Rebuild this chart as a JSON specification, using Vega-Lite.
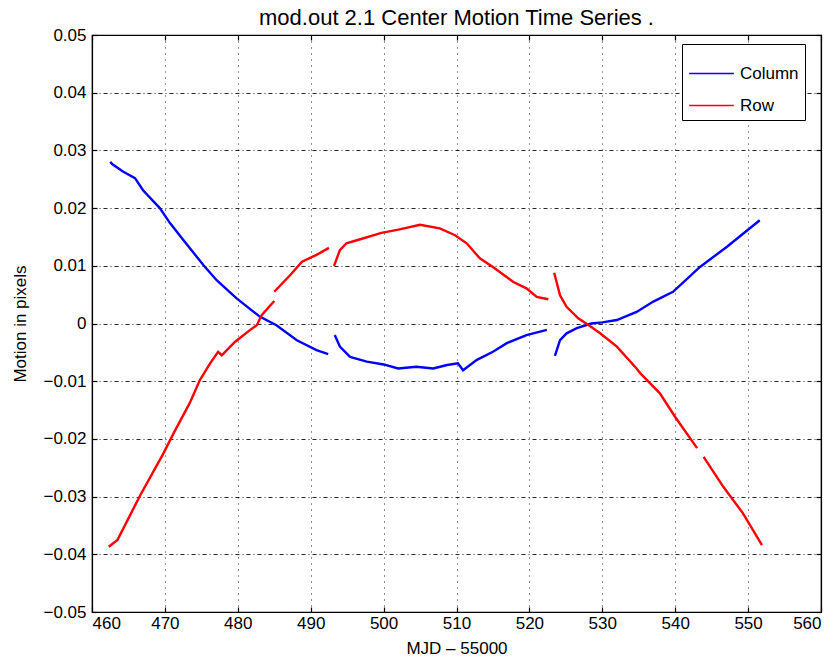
{
  "$schema": "https://vega.github.io/schema/vega-lite/v6.json",
  "autosize": {"type": "none"},
  "width": 729,
  "height": 577,
  "padding": {"left": 92, "top": 35, "right": 14, "bottom": 49},
  "background": "white",
  "title": {"text": "mod.out 2.1 Center Motion Time Series .", "font": "Liberation Sans", "fontSize": 22, "fontWeight": "normal", "color": "black", "offset": -4, "anchor": "middle"},
  "data": {"values": [
    {"s": "Column", "g": "c1", "x": 462.5, "y": 0.0280},
    {"s": "Column", "g": "c1", "x": 462.8, "y": 0.0276},
    {"s": "Column", "g": "c1", "x": 464.3, "y": 0.0263},
    {"s": "Column", "g": "c1", "x": 465.9, "y": 0.0252},
    {"s": "Column", "g": "c1", "x": 467.0, "y": 0.0231},
    {"s": "Column", "g": "c1", "x": 469.3, "y": 0.0200},
    {"s": "Column", "g": "c1", "x": 470.7, "y": 0.0174},
    {"s": "Column", "g": "c1", "x": 472.5, "y": 0.0145},
    {"s": "Column", "g": "c1", "x": 475.3, "y": 0.0101},
    {"s": "Column", "g": "c1", "x": 477.1, "y": 0.0075},
    {"s": "Column", "g": "c1", "x": 479.8, "y": 0.0044},
    {"s": "Column", "g": "c1", "x": 483.0, "y": 0.0012},
    {"s": "Column", "g": "c1", "x": 485.3, "y": -0.0003},
    {"s": "Column", "g": "c1", "x": 488.1, "y": -0.0029},
    {"s": "Column", "g": "c1", "x": 490.8, "y": -0.0046},
    {"s": "Column", "g": "c1", "x": 492.4, "y": -0.0053},
    {"s": "Column", "g": "c2", "x": 493.3, "y": -0.0020},
    {"s": "Column", "g": "c2", "x": 494.0, "y": -0.0040},
    {"s": "Column", "g": "c2", "x": 495.4, "y": -0.0058},
    {"s": "Column", "g": "c2", "x": 497.7, "y": -0.0066},
    {"s": "Column", "g": "c2", "x": 500.0, "y": -0.0071},
    {"s": "Column", "g": "c2", "x": 502.0, "y": -0.0078},
    {"s": "Column", "g": "c2", "x": 504.5, "y": -0.0075},
    {"s": "Column", "g": "c2", "x": 506.8, "y": -0.0078},
    {"s": "Column", "g": "c2", "x": 508.7, "y": -0.0072},
    {"s": "Column", "g": "c2", "x": 510.2, "y": -0.0069},
    {"s": "Column", "g": "c2", "x": 510.9, "y": -0.0081},
    {"s": "Column", "g": "c2", "x": 512.8, "y": -0.0063},
    {"s": "Column", "g": "c2", "x": 515.0, "y": -0.0049},
    {"s": "Column", "g": "c2", "x": 516.9, "y": -0.0034},
    {"s": "Column", "g": "c2", "x": 519.6, "y": -0.0020},
    {"s": "Column", "g": "c2", "x": 522.4, "y": -0.0011},
    {"s": "Column", "g": "c3", "x": 523.5, "y": -0.0056},
    {"s": "Column", "g": "c3", "x": 524.2, "y": -0.0029},
    {"s": "Column", "g": "c3", "x": 525.1, "y": -0.0017},
    {"s": "Column", "g": "c3", "x": 526.5, "y": -0.0008},
    {"s": "Column", "g": "c3", "x": 528.5, "y": 0.0000},
    {"s": "Column", "g": "c3", "x": 530.0, "y": 0.0002},
    {"s": "Column", "g": "c3", "x": 532.0, "y": 0.0006},
    {"s": "Column", "g": "c3", "x": 534.7, "y": 0.0020},
    {"s": "Column", "g": "c3", "x": 537.0, "y": 0.0038},
    {"s": "Column", "g": "c3", "x": 539.7, "y": 0.0055},
    {"s": "Column", "g": "c3", "x": 543.4, "y": 0.0098},
    {"s": "Column", "g": "c3", "x": 547.1, "y": 0.0133},
    {"s": "Column", "g": "c3", "x": 551.6, "y": 0.0179},
    {"s": "Row", "g": "r1", "x": 462.3, "y": -0.0387},
    {"s": "Row", "g": "r1", "x": 463.5, "y": -0.0375},
    {"s": "Row", "g": "r1", "x": 466.6, "y": -0.0298},
    {"s": "Row", "g": "r1", "x": 469.8, "y": -0.0225},
    {"s": "Row", "g": "r1", "x": 471.2, "y": -0.0190},
    {"s": "Row", "g": "r1", "x": 473.4, "y": -0.0138},
    {"s": "Row", "g": "r1", "x": 474.8, "y": -0.0098},
    {"s": "Row", "g": "r1", "x": 476.2, "y": -0.0069},
    {"s": "Row", "g": "r1", "x": 477.3, "y": -0.0049},
    {"s": "Row", "g": "r1", "x": 477.8, "y": -0.0055},
    {"s": "Row", "g": "r1", "x": 479.6, "y": -0.0032},
    {"s": "Row", "g": "r1", "x": 481.7, "y": -0.0011},
    {"s": "Row", "g": "r1", "x": 482.6, "y": -0.0003},
    {"s": "Row", "g": "r1", "x": 483.3, "y": 0.0015},
    {"s": "Row", "g": "r1", "x": 485.0, "y": 0.0039},
    {"s": "Row", "g": "r1b", "x": 485.0, "y": 0.0055},
    {"s": "Row", "g": "r1b", "x": 487.2, "y": 0.0084},
    {"s": "Row", "g": "r1b", "x": 488.8, "y": 0.0107},
    {"s": "Row", "g": "r1b", "x": 490.8, "y": 0.0119},
    {"s": "Row", "g": "r1b", "x": 492.5, "y": 0.0131},
    {"s": "Row", "g": "r2", "x": 493.2, "y": 0.0100},
    {"s": "Row", "g": "r2", "x": 494.0, "y": 0.0127},
    {"s": "Row", "g": "r2", "x": 494.9, "y": 0.0139},
    {"s": "Row", "g": "r2", "x": 496.8, "y": 0.0146},
    {"s": "Row", "g": "r2", "x": 499.7, "y": 0.0157},
    {"s": "Row", "g": "r2", "x": 502.2, "y": 0.0163},
    {"s": "Row", "g": "r2", "x": 505.0, "y": 0.0171},
    {"s": "Row", "g": "r2", "x": 507.7, "y": 0.0165},
    {"s": "Row", "g": "r2", "x": 509.8, "y": 0.0153},
    {"s": "Row", "g": "r2", "x": 511.4, "y": 0.0139},
    {"s": "Row", "g": "r2", "x": 513.2, "y": 0.0113},
    {"s": "Row", "g": "r2", "x": 515.0, "y": 0.0098},
    {"s": "Row", "g": "r2", "x": 517.8, "y": 0.0072},
    {"s": "Row", "g": "r2", "x": 519.6, "y": 0.0061},
    {"s": "Row", "g": "r2", "x": 521.0, "y": 0.0046},
    {"s": "Row", "g": "r2", "x": 522.6, "y": 0.0042},
    {"s": "Row", "g": "r3", "x": 523.4, "y": 0.0088},
    {"s": "Row", "g": "r3", "x": 524.2, "y": 0.0049},
    {"s": "Row", "g": "r3", "x": 525.1, "y": 0.0029},
    {"s": "Row", "g": "r3", "x": 526.7, "y": 0.0009},
    {"s": "Row", "g": "r3", "x": 528.5, "y": -0.0006},
    {"s": "Row", "g": "r3", "x": 529.7, "y": -0.0017},
    {"s": "Row", "g": "r3", "x": 532.0, "y": -0.0040},
    {"s": "Row", "g": "r3", "x": 534.7, "y": -0.0078},
    {"s": "Row", "g": "r3", "x": 535.2, "y": -0.0086},
    {"s": "Row", "g": "r3", "x": 537.9, "y": -0.0121},
    {"s": "Row", "g": "r3", "x": 540.0, "y": -0.0162},
    {"s": "Row", "g": "r3", "x": 543.0, "y": -0.0216},
    {"s": "Row", "g": "r4", "x": 543.9, "y": -0.0231},
    {"s": "Row", "g": "r4", "x": 546.6, "y": -0.0283},
    {"s": "Row", "g": "r4", "x": 549.3, "y": -0.0329},
    {"s": "Row", "g": "r4", "x": 551.9, "y": -0.0384}
  ]},
  "layer": [
    {
      "mark": {"type": "line", "strokeWidth": 2.4, "clip": true},
      "encoding": {
        "x": {"field": "x", "type": "quantitative", "scale": {"domain": [460, 560], "nice": false, "zero": false},
              "axis": {"values": [460,470,480,490,500,510,520,530,540,550,560], "title": "MJD – 55000", "format": "d", "titlePadding": 9}},
        "y": {"field": "y", "type": "quantitative", "scale": {"domain": [-0.05, 0.05], "nice": false, "zero": false},
              "axis": {"values": [-0.05,-0.04,-0.03,-0.02,-0.01,0,0.01,0.02,0.03,0.04,0.05], "title": "Motion in pixels", "format": ".2~f", "titlePadding": 13, "labelPadding": 11}},
        "color": {"field": "s", "type": "nominal", "scale": {"domain": ["Column", "Row"], "range": ["#0000ff", "#ff0000"]},
                  "legend": {"title": null, "orient": "none", "legendX": 590, "legendY": 9, "symbolType": "stroke", "symbolSize": 2000, "symbolStrokeWidth": 1.5,
                             "strokeColor": "black", "fillColor": "white", "padding": 6, "labelFont": "Liberation Sans", "labelFontSize": 17, "labelColor": "black", "rowPadding": 0, "labelOffset": 5}},
        "detail": {"field": "g", "type": "nominal"}
      }
    },
    {
      "mark": {"type": "line", "opacity": 0},
      "encoding": {
        "x": {"field": "x", "type": "quantitative", "axis": {"orient": "top", "values": [460,470,480,490,500,510,520,530,540,550,560], "labels": false, "grid": false, "title": null}},
        "y": {"field": "y", "type": "quantitative", "axis": {"orient": "right", "values": [-0.05,-0.04,-0.03,-0.02,-0.01,0,0.01,0.02,0.03,0.04,0.05], "labels": false, "grid": false, "title": null}},
        "detail": {"field": "g", "type": "nominal"}
      }
    }
  ],
  "resolve": {"axis": {"x": "independent", "y": "independent"}},
  "config": {
    "view": {"stroke": "black", "strokeWidth": 1.2},
    "axis": {
      "domainColor": "black", "domainWidth": 1.2,
      "tickColor": "black", "tickSize": -5, "tickWidth": 1.2,
      "labelFont": "Liberation Sans", "labelFontSize": 17, "labelColor": "black", "labelPadding": 8,
      "titleFont": "Liberation Sans", "titleFontSize": 17, "titleFontWeight": "normal", "titleColor": "black",
      "grid": true, "gridColor": "black", "gridOpacity": 0.85, "gridWidth": 1
    },
    "axisX": {"gridDash": [1, 5]},
    "axisY": {"gridDash": [4, 3, 1, 3]}
  }
}
